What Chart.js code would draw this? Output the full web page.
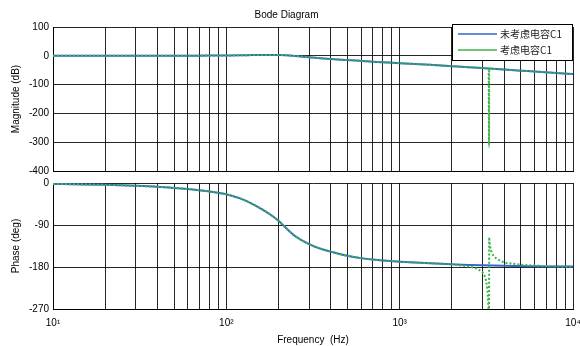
<!DOCTYPE html>
<html>
<head>
<meta charset="utf-8">
<script src="https://cdn.jsdelivr.net/npm/chart.js@4.4.1/dist/chart.umd.min.js"></script>
<style>
  body { margin: 0; background: #fff; }
  #wrap { position: relative; width: 580px; height: 346px; }
  canvas { position: absolute; left: 0; }
</style>
</head>
<body>
<div id="wrap">
  <canvas id="magChart" width="580" height="175" style="top:0"></canvas>
  <canvas id="phaseChart" width="580" height="171" style="top:175px"></canvas>
</div>
<script>
// curve without C1 (Hz, dB, deg)
var freq = [10, 15, 20, 30, 40, 50, 60, 70, 80, 90,
  100, 120, 140, 160, 180, 200, 220, 250, 300, 350,
  400, 500, 600, 700, 800, 1000, 1500, 2000, 2500, 3000,
  4000, 5000, 6000, 8000, 10000];
var magPlain = [0, 0, 0, 0.1, 0.2, 0.3, 0.4, 0.6, 0.8, 1.0,
  1.3, 1.8, 2.4, 2.9, 3.1, 2.8, 2.0, -0.5, -5, -8.5,
  -11, -14.8, -17.8, -20.3, -22.5, -25.5, -31.5, -36, -39.5, -42.5,
  -47.5, -51.5, -54.5, -59.5, -63.5];
var phasePlain = [-2, -3, -4, -6, -8, -10.5, -13, -15.5, -18, -21,
  -24, -33, -44, -56, -68, -81, -96, -114, -131, -141,
  -147, -156, -161, -164, -166, -168.5, -172, -174, -175.5, -176.5,
  -177.5, -178, -178.5, -179, -179];

// curve with C1 (resonance near 3.3 kHz)
var freqC1 = [10, 15, 20, 30, 40, 50, 60, 70, 80, 90,
  100, 120, 140, 160, 180, 200, 220, 250, 300, 350,
  400, 500, 600, 700, 800, 1000, 1500, 2000, 2500, 2700,
  2900, 3000, 3100, 3150, 3200, 3230, 3260, 3278, 3285, 3300,
  3330, 3400, 3500, 3700, 4000, 4500, 5000, 6000, 8000, 10000];
var magC1 = [0, 0, 0, 0.1, 0.2, 0.3, 0.4, 0.6, 0.8, 1.0,
  1.3, 1.8, 2.4, 2.9, 3.1, 2.8, 2.0, -0.5, -5, -8.5,
  -11, -14.8, -17.8, -20.3, -22.5, -25.5, -31.5, -36, -39.5, -40.8,
  -42, -42.6, -43.4, -44, -44.6, -45.2, -46.5, -316, -48, -45,
  -44.8, -45.2, -45.8, -46.6, -47.5, -49.6, -51.5, -54.5, -59.5, -63.5];
var phaseC1 = [-2, -3, -4, -6, -8, -10.5, -13, -15.5, -18, -21,
  -24, -33, -44, -56, -68, -81, -96, -114, -131, -141,
  -147, -156, -161, -164, -166, -168.5, -172, -174.5, -179, -182,
  -187, -191, -200, -209, -226, -244, -270, -270, -116, -126,
  -137, -149, -157, -164, -170, -173, -175, -177, -178.5, -179];

var seriesNames = ['未考虑电容C1', '考虑电容C1'];
var decadeTicks = [10, 100, 1000, 10000];
var decadeLabels = ['10¹', '10²', '10³', '10⁴'];
var magTicks = [-400, -300, -200, -100, 0, 100];
var phaseTicks = [-270, -180, -90, 0];

var blue = '#3366c8';
var green = '#3cb44a';
var gridColor = 'rgba(0,0,0,0.85)';

Chart.defaults.font.family = '"Liberation Sans", Arial, sans-serif';
Chart.defaults.font.size = 10;
Chart.defaults.color = '#000';

// grid lines at 1..9 x each decade
var gridValues = [];
for (var d = 0; d < decadeTicks.length - 1; d++) {
  for (var m = 1; m < 10; m++) gridValues.push(decadeTicks[d] * m);
}
gridValues.push(decadeTicks[decadeTicks.length - 1]);

function pts(xs, ys) {
  return xs.map(function (x, i) { return { x: x, y: ys[i] }; });
}

function makeDatasets(plain, withC1) {
  return [{
    label: seriesNames[0],
    data: plain,
    borderColor: blue,
    borderWidth: 2,
    pointRadius: 0,
    cubicInterpolationMode: 'monotone',
    order: 1
  }, {
    label: seriesNames[1],
    data: withC1,
    borderColor: green,
    borderWidth: 2,
    borderDash: [2, 2],
    pointRadius: 0,
    cubicInterpolationMode: 'monotone',
    order: 0
  }];
}

function xAxis(showLabels, axisHeight) {
  return {
    type: 'logarithmic',
    min: decadeTicks[0],
    max: decadeTicks[decadeTicks.length - 1],
    afterBuildTicks: function (scale) {
      scale.ticks = gridValues.map(function (v) { return { value: v }; });
    },
    afterFit: function (scale) {
      scale.paddingLeft = 0;
      scale.paddingRight = 0;
      scale.height = axisHeight;
    },
    ticks: {
      display: showLabels,
      autoSkip: false,
      maxRotation: 0,
      padding: 8,
      callback: function (v) {
        var i = decadeTicks.indexOf(v);
        return i >= 0 ? decadeLabels[i] : '';
      }
    },
    grid: { color: gridColor, drawTicks: false },
    border: { color: '#000', width: 1 },
    title: {
      display: showLabels,
      text: 'Frequency  (Hz)',
      padding: { top: 5, bottom: 0 }
    }
  };
}

function yAxis(ticksArr, step, titleText) {
  return {
    min: ticksArr[0],
    max: ticksArr[ticksArr.length - 1],
    afterFit: function (scale) {
      scale.width = 53;
      scale.paddingTop = 0;
      scale.paddingBottom = 0;
    },
    ticks: { stepSize: step, padding: 4 },
    grid: { color: gridColor, drawTicks: false },
    border: { color: '#000', width: 1 },
    title: { display: true, text: titleText, padding: { top: 10, bottom: 0 } }
  };
}

// legend box in the upper right corner of the magnitude plot
var legendBox = {
  id: 'legendBox',
  afterDraw: function (chart) {
    var ctx = chart.ctx;
    ctx.save();
    ctx.fillStyle = '#fff';
    ctx.strokeStyle = '#000';
    ctx.lineWidth = 1;
    ctx.fillRect(452.5, 24.5, 120, 36);
    ctx.strokeRect(452.5, 24.5, 120, 36);
    ctx.font = '10px "Noto Sans CJK SC", sans-serif';
    ctx.textBaseline = 'middle';
    chart.data.datasets.forEach(function (ds, i) {
      var y = 34 + i * 16;
      ctx.strokeStyle = ds.borderColor;
      ctx.lineWidth = 1.5;
      ctx.beginPath();
      ctx.moveTo(458, y);
      ctx.lineTo(497, y);
      ctx.stroke();
      ctx.fillStyle = '#222';
      ctx.fillText(ds.label, 500, y);
    });
    ctx.restore();
  }
};

new Chart(document.getElementById('magChart').getContext('2d'), {
  type: 'line',
  data: { datasets: makeDatasets(pts(freq, magPlain), pts(freqC1, magC1)) },
  options: {
    responsive: false,
    animation: false,
    layout: { padding: { left: 0, right: 7, top: 0, bottom: 4 } },
    plugins: {
      legend: { display: false },
      tooltip: { enabled: false },
      title: {
        display: true,
        text: 'Bode Diagram',
        color: '#000',
        font: { size: 10, weight: 'normal' },
        padding: { top: 9, bottom: 6 }
      }
    },
    scales: {
      x: xAxis(false, 0),
      y: yAxis(magTicks, 100, 'Magnitude (dB)')
    }
  },
  plugins: [legendBox]
});

new Chart(document.getElementById('phaseChart').getContext('2d'), {
  type: 'line',
  data: { datasets: makeDatasets(pts(freq, phasePlain), pts(freqC1, phaseC1)) },
  options: {
    responsive: false,
    animation: false,
    layout: { padding: { left: 0, right: 7, top: 8, bottom: 0 } },
    plugins: {
      legend: { display: false },
      tooltip: { enabled: false }
    },
    scales: {
      x: xAxis(true, 37),
      y: yAxis(phaseTicks, 90, 'Phase (deg)')
    }
  }
});
</script>
</body>
</html>
